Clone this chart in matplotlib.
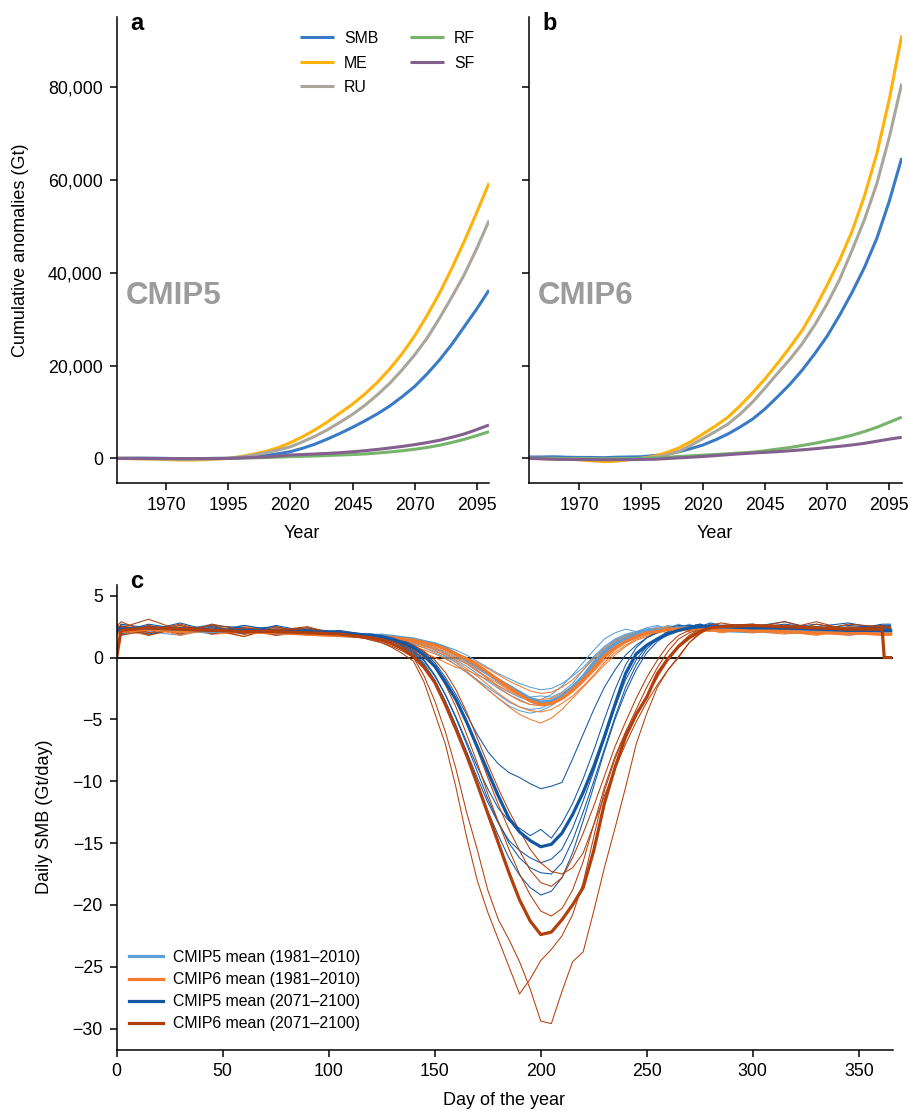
import matplotlib
matplotlib.use("Agg")
import matplotlib.pyplot as plt
from matplotlib.ticker import FuncFormatter

plt.rcParams['font.family'] = ['Liberation Sans', 'DejaVu Sans']

# ---------------- Panel a/b data (cumulative anomalies, Gt) ----------------
years = [1950, 1955, 1960, 1965, 1970, 1975, 1980, 1985, 1990, 1995, 2000, 2005, 2010,
         2015, 2020, 2025, 2030, 2035, 2040, 2045, 2050, 2055, 2060, 2065, 2070, 2075,
         2080, 2085, 2090, 2095, 2100]

cmip5_SMB = [0, 30, 50, 30, 0, -50, -80, -50, 0, 0, 150, 350, 600, 1000, 1450, 2200, 3100,
             4200, 5400, 6700, 8100, 9600, 11300, 13300, 15500, 18200, 21200, 24600, 28400,
             32200, 36300]
cmip5_ME = [0, -50, -100, -150, -250, -350, -350, -300, -150, 0, 400, 900, 1500, 2300, 3400,
            4700, 6200, 7900, 9800, 11700, 13900, 16400, 19300, 22600, 26400, 30800, 35600,
            41000, 46800, 53000, 59400]
cmip5_RU = [0, -30, -60, -100, -150, -200, -200, -150, -80, 0, 300, 700, 1200, 1800, 2500,
            3600, 4800, 6200, 7800, 9500, 11450, 13700, 16200, 19100, 22300, 25900, 30200,
            34800, 39600, 45200, 51300]
cmip5_RF = [0, 0, -10, -20, -30, -40, -40, -30, -20, 0, 60, 120, 180, 270, 370, 440, 520, 620,
            730, 830, 950, 1150, 1380, 1650, 1960, 2350, 2820, 3430, 4110, 4900, 5760]
cmip5_SF = [0, 0, -20, -30, -40, -50, -50, -40, -20, 0, 100, 200, 300, 500, 730, 830, 950,
            1080, 1230, 1430, 1660, 1930, 2240, 2580, 2960, 3400, 3900, 4550, 5260, 6200, 7200]

cmip6_SMB = [300, 300, 350, 250, 200, 200, 150, 250, 300, 350, 600, 900, 1400, 2100, 2900,
             4000, 5260, 6800, 8500, 10700, 13300, 16000, 19100, 22600, 26400, 30900, 35800,
             41200, 47500, 55500, 64800]
cmip6_ME = [0, -50, -100, -200, -300, -500, -700, -600, -300, 0, 400, 1200, 2200, 3600, 5300,
            7000, 8900, 11400, 14200, 17200, 20500, 24000, 27700, 32300, 37400, 42800, 49000,
            56600, 65800, 77500, 91200]
cmip6_RU = [0, 0, 0, -50, -100, -150, -200, -150, -100, 0, 200, 700, 1450, 2800, 4300, 5800,
            7400, 9600, 12200, 15200, 18350, 21400, 24800, 28800, 33400, 38600, 44900, 51500,
            59300, 69300, 80800]
cmip6_RF = [0, 0, -50, -50, -100, -100, -100, -80, -50, 0, 60, 200, 400, 550, 700, 850, 1000,
            1170, 1350, 1650, 2000, 2350, 2800, 3250, 3800, 4350, 5000, 5800, 6700, 7800, 8900]
cmip6_SF = [0, -100, -200, -220, -250, -280, -300, -280, -250, -220, -200, -50, 100, 250, 400,
            600, 800, 980, 1150, 1300, 1450, 1640, 1850, 2080, 2350, 2600, 2900, 3250, 3700,
            4150, 4550]

series_names = ['SMB', 'ME', 'RU', 'RF', 'SF']
series_colors = ['#3b7bc6', '#ffb20a', '#aaa69c', '#76b36b', '#84608e']
year_ticks = [1970, 1995, 2020, 2045, 2070, 2095]
cum_ticks = [0, 20000, 40000, 60000, 80000]

# ---------------- Panel c data (daily SMB, Gt/day) ----------------
days = [0, 2, 15, 30, 45, 60, 75, 90, 105, 120,
        125, 130, 135, 140, 145, 150, 155, 160, 165, 170, 175, 180, 185, 190, 195, 200,
        205, 210, 215, 220, 225, 230, 235, 240, 245, 250, 255, 260, 265, 270, 275, 280, 285,
        300, 315, 330, 345, 361, 362, 365]

c5_hist_mean = [2.2, 2.2, 2.3, 2.2, 2.1, 2.2, 2.0, 2.0, 1.9, 1.8,
                1.8, 1.7, 1.6, 1.5, 1.3, 1.1, 0.8, 0.3, -0.2, -0.7, -1.3, -1.8, -2.3, -2.8, -3.3, -3.6,
                -3.5, -3.1, -2.4, -1.5, -0.4, 0.5, 1.1, 1.5, 1.9, 2.1, 2.2, 2.3, 2.4, 2.4, 2.4, 2.3, 2.3,
                2.2, 2.1, 2.1, 2.0, 2.0, 2.0, 2.0]
c6_hist_mean = [2.0, 2.1, 2.3, 2.1, 2.2, 2.1, 2.0, 1.9, 1.8, 1.7,
                1.7, 1.6, 1.5, 1.4, 1.2, 1.0, 0.7, 0.3, -0.1, -0.6, -1.2, -1.8, -2.4, -3.0, -3.5, -3.8,
                -3.7, -3.3, -2.6, -1.8, -0.9, 0.1, 0.8, 1.3, 1.7, 2.0, 2.1, 2.3, 2.3, 2.4, 2.3, 2.3, 2.2,
                2.2, 2.1, 2.0, 2.0, 1.9, 1.9, 1.9]
c5_fut_mean = [2.2, 2.3, 2.4, 2.3, 2.2, 2.2, 2.1, 2.1, 2.0, 1.8,
               1.7, 1.5, 1.2, 0.8, 0.2, -0.7, -2.0, -3.4, -5.2, -7.2, -9.2, -11.2, -13.0, -14.1, -14.8, -15.3,
               -15.1, -14.2, -12.7, -10.9, -8.8, -6.4, -3.8, -1.3, 0.3, 1.0, 1.5, 1.9, 2.2, 2.4, 2.5, 2.5, 2.5,
               2.4, 2.4, 2.3, 2.2, 2.2, 2.2, 2.2]
c6_fut_mean = [0.0, 2.2, 2.4, 2.3, 2.2, 2.1, 2.1, 2.0, 1.9, 1.6,
               1.4, 1.1, 0.7, 0.1, -0.8, -2.0, -3.8, -5.8, -7.9, -10.2, -12.6, -15.0, -17.4, -19.6, -21.3, -22.4,
               -22.2, -21.2, -20.0, -18.6, -15.6, -11.8, -8.9, -6.4, -4.6, -3.2, -1.3, -0.1, 0.9, 1.6, 2.1, 2.4, 2.5,
               2.6, 2.5, 2.4, 2.3, 2.3, 0.0, 0.0]

# individual models, CMIP5 1981-2010
c5_hist_models = [
    [1.9, 2.4, 2.1, 1.8, 2.5, 2.0, 2.3, 1.9, 1.7, 1.6,
     1.7, 1.6, 1.5, 1.5, 1.3, 1.2, 0.9, 0.6, 0.2, -0.3, -0.8, -1.3, -1.7, -2.1, -2.4, -2.6,
     -2.5, -2.1, -1.5, -0.8, 0.1, 0.9, 1.5, 1.9, 2.1, 2.2, 2.4, 2.2, 2.5, 2.3, 2.2, 2.4, 2.1,
     2.0, 2.3, 1.9, 2.2, 1.9, 1.9, 1.9],
    [2.5, 2.0, 2.6, 2.3, 1.9, 2.4, 1.8, 2.1, 2.0, 1.9,
     1.8, 1.8, 1.6, 1.4, 1.3, 1.0, 0.6, 0.2, -0.3, -0.9, -1.4, -2.0, -2.5, -2.9, -3.2, -3.1,
     -3.2, -2.8, -2.1, -1.0, 0.0, 0.8, 1.4, 1.7, 2.0, 2.3, 2.1, 2.5, 2.3, 2.6, 2.4, 2.2, 2.4,
     2.4, 2.0, 2.3, 1.8, 2.1, 2.1, 2.1],
    [2.0, 2.7, 1.9, 2.4, 2.2, 2.6, 2.1, 1.8, 2.1, 1.7,
     1.6, 1.5, 1.3, 1.2, 1.0, 0.7, 0.3, -0.2, -0.7, -1.3, -1.9, -2.5, -3.0, -3.4, -3.8, -3.7,
     -3.5, -3.0, -2.4, -1.6, -0.6, 0.4, 1.2, 1.8, 2.0, 2.2, 2.5, 2.3, 2.2, 2.5, 2.7, 2.3, 2.5,
     2.1, 2.4, 2.2, 2.0, 2.3, 2.3, 2.3],
    [2.3, 2.2, 2.5, 1.9, 2.3, 2.1, 2.4, 2.0, 1.8, 1.8,
     1.7, 1.5, 1.4, 1.1, 0.8, 0.4, 0.0, -0.6, -1.2, -1.8, -2.4, -3.0, -3.6, -4.0, -4.2, -4.1,
     -3.7, -3.2, -2.6, -1.7, -0.7, 0.3, 1.0, 1.5, 1.8, 2.1, 2.3, 2.6, 2.4, 2.2, 2.5, 2.6, 2.3,
     2.2, 2.5, 2.0, 2.3, 2.2, 2.2, 2.2],
    [2.1, 1.8, 2.3, 2.6, 2.0, 2.2, 1.9, 2.3, 1.9, 1.8,
     1.8, 1.7, 1.5, 1.3, 1.0, 0.6, 0.1, -0.4, -1.1, -1.8, -2.6, -3.3, -3.9, -4.3, -4.5, -4.3,
     -3.9, -3.3, -2.5, -1.5, -0.5, 0.6, 1.4, 1.8, 2.0, 2.4, 2.2, 2.4, 2.7, 2.4, 2.3, 2.5, 2.2,
     2.3, 2.1, 2.4, 2.1, 2.0, 2.0, 2.0],
    [1.8, 2.3, 2.0, 2.2, 2.7, 1.9, 2.2, 2.2, 1.9, 1.7,
     1.9, 1.7, 1.6, 1.3, 1.1, 0.8, 0.4, 0.0, -0.5, -1.1, -1.7, -2.3, -2.8, -3.2, -3.5, -3.4,
     -3.0, -2.3, -1.4, -0.4, 0.6, 1.5, 2.0, 2.3, 2.1, 2.4, 2.6, 2.3, 2.4, 2.7, 2.4, 2.2, 2.6,
     2.3, 2.6, 2.1, 2.4, 2.3, 2.3, 2.3],
]
# individual models, CMIP6 1981-2010
c6_hist_models = [
    [2.6, 2.2, 1.8, 2.4, 2.0, 2.5, 2.1, 1.9, 2.0, 1.6,
     1.6, 1.5, 1.5, 1.3, 1.2, 1.0, 0.7, 0.3, 0.0, -0.4, -0.9, -1.4, -1.9, -2.3, -2.7, -2.9,
     -2.8, -2.4, -1.8, -1.0, -0.1, 0.7, 1.3, 1.7, 2.0, 2.1, 2.3, 2.5, 2.2, 2.4, 2.1, 2.3, 2.2,
     2.1, 1.9, 2.2, 2.0, 1.8, 1.8, 1.8],
    [1.9, 2.5, 2.4, 1.8, 2.3, 1.9, 2.2, 2.3, 1.8, 1.8,
     1.7, 1.4, 1.3, 1.2, 0.9, 0.7, 0.3, -0.1, -0.5, -1.1, -1.6, -2.1, -2.6, -3.0, -3.3, -3.4,
     -3.3, -2.9, -2.3, -1.5, -0.6, 0.3, 1.0, 1.5, 1.9, 2.2, 2.0, 2.3, 2.5, 2.2, 2.4, 2.2, 2.1,
     2.3, 2.1, 1.8, 2.2, 2.0, 2.0, 2.0],
    [2.2, 1.8, 2.6, 2.1, 2.4, 2.2, 1.8, 2.0, 1.9, 1.7,
     1.5, 1.6, 1.4, 1.2, 1.0, 0.8, 0.5, 0.1, -0.4, -1.0, -1.7, -2.4, -3.0, -3.5, -3.8, -3.9,
     -3.8, -3.4, -2.8, -2.0, -1.1, -0.2, 0.6, 1.2, 1.6, 1.9, 2.2, 2.0, 2.4, 2.6, 2.2, 2.1, 2.3,
     2.0, 2.2, 2.0, 1.8, 2.1, 2.1, 2.1],
    [2.4, 2.0, 2.2, 2.5, 1.9, 2.0, 2.3, 1.8, 1.7, 1.6,
     1.6, 1.5, 1.2, 1.0, 0.8, 0.5, 0.2, -0.3, -0.9, -1.5, -2.2, -2.9, -3.5, -4.0, -4.3, -4.4,
     -4.2, -3.7, -3.1, -2.3, -1.4, -0.4, 0.4, 1.0, 1.5, 1.8, 2.1, 2.3, 2.1, 2.3, 2.5, 2.2, 2.0,
     2.4, 2.0, 1.9, 2.1, 1.9, 1.9, 1.9],
    [2.0, 2.3, 2.0, 2.2, 2.2, 1.7, 2.4, 2.1, 1.8, 1.5,
     1.4, 1.3, 1.1, 0.9, 0.6, 0.3, -0.1, -0.6, -1.2, -1.9, -2.6, -3.3, -4.0, -4.6, -5.0, -5.3,
     -4.9, -4.2, -3.3, -2.4, -1.5, -0.6, 0.2, 0.9, 1.4, 1.7, 2.0, 2.2, 2.4, 2.2, 2.3, 2.4, 2.1,
     2.2, 2.3, 2.0, 2.2, 2.1, 2.1, 2.1],
    [2.8, 2.1, 2.3, 2.0, 2.4, 2.3, 2.0, 2.2, 1.9, 1.7,
     1.7, 1.5, 1.2, 0.8, 0.4, 0.0, -0.4, -0.8, -1.0, -1.4, -1.8, -2.3, -2.7, -3.1, -3.5, -3.6,
     -3.5, -3.1, -2.5, -1.6, -0.6, 0.3, 1.1, 1.6, 1.9, 2.1, 2.4, 2.2, 2.3, 2.1, 2.4, 2.6, 2.3,
     2.2, 2.4, 2.1, 1.9, 2.2, 2.2, 2.2],
]
# individual models, CMIP5 2071-2100
c5_fut_models = [
    [2.4, 2.1, 2.7, 2.3, 2.0, 2.6, 2.2, 2.4, 1.9, 1.9,
     1.8, 1.6, 1.4, 1.0, 0.4, -0.4, -1.6, -3.0, -4.6, -6.2, -7.6, -8.6, -9.3, -9.7, -10.2, -10.6,
     -10.4, -10.1, -8.2, -6.2, -4.2, -2.4, -1.0, 0.2, 1.0, 1.6, 2.0, 2.3, 2.5, 2.6, 2.5, 2.8, 2.6,
     2.5, 2.9, 2.3, 2.6, 2.4, 2.4, 2.4],
    [2.0, 2.5, 2.2, 2.8, 2.1, 2.3, 2.5, 2.0, 2.2, 1.8,
     1.7, 1.4, 1.0, 0.5, -0.3, -1.5, -3.0, -4.8, -6.8, -8.8, -10.6, -12.2, -13.2, -13.8, -14.4, -13.9,
     -14.6, -13.4, -11.8, -9.8, -7.5, -5.0, -2.6, -0.6, 0.8, 1.6, 2.1, 2.4, 2.6, 2.5, 2.7, 2.4, 2.6,
     2.7, 2.2, 2.5, 2.8, 2.3, 2.3, 2.3],
    [2.6, 2.3, 1.9, 2.4, 2.5, 2.0, 2.3, 2.2, 1.8, 1.7,
     1.6, 1.3, 0.9, 0.3, -0.6, -2.0, -3.6, -5.5, -7.6, -9.7, -11.7, -13.4, -14.8, -15.6, -16.2, -16.6,
     -16.3, -15.5, -13.8, -11.6, -9.2, -6.6, -4.0, -1.8, -0.2, 0.9, 1.6, 2.1, 2.4, 2.3, 2.6, 2.5, 2.4,
     2.3, 2.6, 2.2, 2.4, 2.6, 2.6, 2.6],
    [2.1, 2.7, 2.4, 2.0, 2.6, 2.4, 1.9, 2.3, 2.1, 1.8,
     1.7, 1.5, 1.1, 0.6, -0.2, -1.4, -3.0, -4.9, -7.0, -9.2, -11.4, -13.3, -15.0, -16.2, -17.0, -17.4,
     -17.5, -16.6, -14.8, -12.5, -10.0, -7.4, -4.8, -2.4, -0.6, 0.7, 1.5, 2.0, 2.3, 2.6, 2.4, 2.7, 2.5,
     2.6, 2.4, 2.7, 2.2, 2.5, 2.5, 2.5],
    [2.3, 1.9, 2.5, 2.2, 2.4, 1.9, 2.6, 2.1, 2.0, 1.8,
     1.6, 1.3, 0.9, 0.4, -0.5, -1.8, -3.5, -5.5, -7.8, -10.1, -12.4, -14.4, -16.2, -17.6, -18.6, -19.2,
     -18.9, -17.8, -15.8, -13.2, -10.4, -7.6, -5.0, -2.8, -1.0, 0.4, 1.3, 1.9, 2.3, 2.5, 2.7, 2.5, 2.4,
     2.4, 2.7, 2.4, 2.2, 2.7, 2.7, 2.7],
]
# individual models, CMIP6 2071-2100
c6_fut_models = [
    [2.5, 2.9, 2.0, 2.6, 1.9, 2.4, 2.2, 2.5, 1.8, 1.5,
     1.2, 0.8, 0.3, -0.3, -2.0, -4.5, -7.0, -10.5, -14.5, -18.0, -20.6, -22.8, -25.0, -27.2, -26.0, -24.5,
     -23.6, -22.5, -20.8, -18.2, -14.5, -10.8, -8.2, -6.1, -4.6, -3.1, -1.6, -0.2, 1.0, 1.8, 2.3, 2.6, 2.8,
     2.4, 2.9, 2.2, 2.7, 2.5, 2.4, 2.5],
    [2.0, 2.4, 3.1, 2.2, 2.6, 1.9, 2.3, 2.0, 2.1, 1.4,
     1.2, 0.9, 0.5, 0.0, -1.5, -3.5, -6.0, -9.0, -12.5, -15.5, -18.8, -21.2, -22.8, -24.6, -26.8, -29.4,
     -29.6, -27.0, -24.6, -23.8, -20.5, -17.0, -13.8, -10.5, -7.0, -4.5, -2.4, -1.0, 0.0, 1.2, 2.0, 2.4, 2.6,
     2.7, 2.3, 2.9, 2.2, 2.6, 2.5, 2.4],
    [2.3, 1.8, 2.2, 2.7, 2.0, 2.4, 1.8, 2.2, 1.9, 1.6,
     1.5, 1.3, 1.0, 0.5, 0.0, -0.8, -2.2, -4.0, -6.2, -8.5, -11.0, -13.3, -15.5, -17.5, -19.2, -20.5,
     -20.9, -20.3, -18.8, -16.5, -13.5, -10.5, -8.0, -6.0, -4.2, -2.4, -0.8, 0.5, 1.5, 2.0, 2.3, 2.4, 2.5,
     2.2, 2.6, 2.3, 2.1, 2.4, 2.4, 2.4],
    [1.9, 2.6, 1.8, 2.4, 2.3, 1.7, 2.5, 1.9, 2.0, 1.7,
     1.6, 1.4, 1.1, 0.7, 0.1, -0.6, -1.8, -3.3, -5.2, -7.4, -9.7, -11.9, -13.9, -15.6, -17.2, -18.2,
     -18.5, -17.8, -16.2, -14.2, -12.0, -9.6, -7.2, -5.2, -3.3, -1.6, -0.2, 1.0, 1.8, 2.2, 2.5, 2.3, 2.6,
     2.5, 2.0, 2.7, 2.3, 2.1, 2.2, 2.2],
    [2.4, 2.0, 2.6, 1.9, 2.7, 2.2, 2.1, 2.4, 1.7, 1.8,
     1.7, 1.5, 1.3, 1.0, 0.5, -0.2, -1.2, -2.6, -4.4, -6.5, -8.6, -10.6, -12.4, -14.0, -15.5, -16.6,
     -17.3, -17.5, -17.0, -15.8, -13.5, -11.2, -9.0, -7.0, -5.2, -3.6, -2.2, -1.0, 0.1, 1.2, 1.9, 2.4, 2.6,
     2.3, 2.6, 2.0, 2.5, 2.3, 2.4, 2.4],
]

group_labels = ['CMIP5 mean (1981–2010)', 'CMIP6 mean (1981–2010)',
                'CMIP5 mean (2071–2100)', 'CMIP6 mean (2071–2100)']
group_colors = ['#5a9fd6', '#f47b2e', '#1257a3', '#b2400c']
day_ticks = [0, 50, 100, 150, 200, 250, 300, 350]
smb_ticks = [5, 0, -5, -10, -15, -20, -25, -30]

# ---------------- Figure ----------------
fig = plt.figure(figsize=(9.09, 11.11), dpi=100)
axa = fig.add_axes([0.1284, 0.5653, 0.4096, 0.4198])
axb = fig.add_axes([0.5823, 0.5653, 0.4097, 0.4198])
axc = fig.add_axes([0.1284, 0.0553, 0.8537, 0.4185])

TICK_FS = 12.8
LAB_FS = 13
LEG_FS = 11.4


def style_axis(ax):
    for s in ['top', 'right']:
        ax.spines[s].set_visible(False)
    for s in ['left', 'bottom']:
        ax.spines[s].set_linewidth(1.1)
    ax.tick_params(axis='both', direction='out', length=5, width=1.1,
                   labelsize=TICK_FS, pad=5, colors='black')


panel_data = [
    (axa, [cmip5_SMB, cmip5_ME, cmip5_RU, cmip5_RF, cmip5_SF], 'CMIP5'),
    (axb, [cmip6_SMB, cmip6_ME, cmip6_RU, cmip6_RF, cmip6_SF], 'CMIP6'),
]
for ax, vals, name in panel_data:
    for v, lab, col in zip(vals, series_names, series_colors):
        ax.plot(years, v, color=col, lw=2.2, label=lab, solid_capstyle='butt')
    ax.set_xlim(1950, 2100)
    ax.set_ylim(-5300, 95300)
    ax.set_xticks(year_ticks)
    ax.set_yticks(cum_ticks)
    style_axis(ax)
    ax.set_xlabel('Year', fontsize=LAB_FS)
    ax.xaxis.set_label_coords(0.4985, -0.108)
    ax.xaxis.label.set_va('center')
    ax.text(0.024, 0.40, name, transform=ax.transAxes, fontsize=22.5,
            fontweight='bold', color='#9c9c9c', va='center', ha='left')

axa.yaxis.set_major_formatter(FuncFormatter(lambda v, p: f'{int(v):,}'))
axa.set_ylabel('Cumulative anomalies (Gt)', fontsize=LAB_FS)
axa.yaxis.set_label_coords(-0.258, 0.5)
axa.yaxis.label.set_va('center')
axb.set_yticklabels([])

leg = axa.legend(ncol=2, loc='upper left', bbox_to_anchor=(0.492, 0.969),
                 frameon=False, fontsize=LEG_FS, borderpad=0, borderaxespad=0,
                 handlelength=2.15, handletextpad=0.63, columnspacing=2.0,
                 labelspacing=0.6)

# Panel c
for models, col in zip([c5_hist_models, c6_hist_models, c5_fut_models, c6_fut_models],
                       group_colors):
    for m in models:
        axc.plot(days, m, color=col, lw=0.75)
for mean, col, lab in zip([c5_hist_mean, c6_hist_mean, c5_fut_mean, c6_fut_mean],
                          group_colors, group_labels):
    axc.plot(days, mean, color=col, lw=2.3, label=lab)
axc.axhline(0, color='black', lw=1.3, zorder=1)
axc.set_xlim(0, 366)
axc.set_ylim(-31.7, 5.9)
axc.set_xticks(day_ticks)
axc.set_yticks(smb_ticks)
style_axis(axc)
axc.set_xlabel('Day of the year', fontsize=LAB_FS)
axc.xaxis.set_label_coords(0.499, -0.1105)
axc.xaxis.label.set_va('center')
axc.set_ylabel('Daily SMB (Gt/day)', fontsize=LAB_FS)
axc.yaxis.set_label_coords(-0.0937, 0.5)
axc.yaxis.label.set_va('center')
axc.legend(loc='upper left', bbox_to_anchor=(0.0162, 0.2142), frameon=False,
           fontsize=LEG_FS, borderpad=0, borderaxespad=0, handlelength=2.15,
           handletextpad=0.63, labelspacing=0.45)

# Panel letters
fig.text(130 / 909, 1 - 29.8 / 1111, 'a', fontsize=17, fontweight='bold', va='baseline')
fig.text(542.7 / 909, 1 - 29.8 / 1111, 'b', fontsize=17, fontweight='bold', va='baseline')
fig.text(130 / 909, 1 - 588 / 1111, 'c', fontsize=17, fontweight='bold', va='baseline')

fig.savefig('out.png', dpi=100)
